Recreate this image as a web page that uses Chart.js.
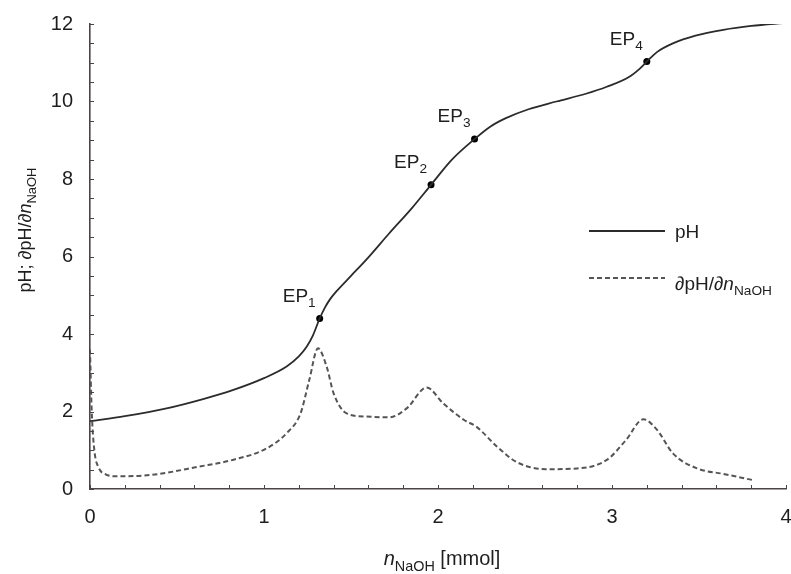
<!DOCTYPE html>
<html>
<head>
<meta charset="utf-8">
<script src="https://cdn.jsdelivr.net/npm/chart.js@4"></script>
<style>
  body { margin: 0; background: #fff; }
</style>
</head>
<body>
<canvas id="titration-chart" width="791" height="574"></canvas>
<script>
// titration curve, values
const phX = [0, 0.2, 0.44, 0.65, 0.82, 1.0, 1.13, 1.2, 1.245, 1.28, 1.32, 1.35, 1.38, 1.42, 1.5, 1.6, 1.72, 1.85, 1.96, 2.08, 2.21, 2.3, 2.39, 2.52, 2.68, 2.85, 2.97, 3.1, 3.16, 3.2, 3.26, 3.35, 3.48, 3.64, 3.8, 4.0];
const phY = [1.75, 1.88, 2.08, 2.32, 2.55, 2.86, 3.16, 3.42, 3.67, 3.95, 4.4, 4.68, 4.9, 5.12, 5.5, 5.98, 6.6, 7.25, 7.85, 8.5, 9.03, 9.35, 9.57, 9.8, 10.0, 10.2, 10.38, 10.64, 10.85, 11.03, 11.28, 11.5, 11.7, 11.85, 11.95, 12.03];

// first derivative dpH/dn
const derivX = [0, 0.01, 0.025, 0.05, 0.09, 0.15, 0.345, 0.63, 0.82, 1.016, 1.13, 1.21, 1.26, 1.31, 1.36, 1.4, 1.475, 1.59, 1.72, 1.82, 1.935, 2.03, 2.15, 2.22, 2.34, 2.45, 2.62, 2.8, 2.97, 3.08, 3.18, 3.26, 3.35, 3.49, 3.64, 3.81];
const derivY = [3.6, 2.0, 1.0, 0.55, 0.38, 0.33, 0.36, 0.58, 0.75, 1.05, 1.44, 1.95, 2.81, 3.63, 3.16, 2.47, 1.95, 1.87, 1.85, 2.08, 2.62, 2.21, 1.78, 1.61, 1.09, 0.7, 0.51, 0.53, 0.75, 1.26, 1.8, 1.52, 0.92, 0.53, 0.39, 0.23];

// equivalence points
const epX = [1.32, 1.96, 2.21, 3.2];
const epY = [4.4, 7.85, 9.03, 11.03];
const epLabels = ['1', '2', '3', '4'];

const xTicks = [0, 1, 2, 3, 4];
const yTicks = [0, 2, 4, 6, 8, 10, 12];

const toXY = (xs, ys) => xs.map((x, i) => ({ x: x, y: ys[i] }));

const FONT = '"Liberation Sans", Arial, sans-serif';
const TEXT = '#1e1e1e';
const AXIS = '#4a4444';

// draws text pieces with italic / subscript parts
function drawRich(ctx, parts, x, y, size, align) {
    const widths = parts.map(p => {
        ctx.font = (p.it ? 'italic ' : '') + (p.sub ? size * 0.72 : size) + 'px ' + FONT;
        return ctx.measureText(p.t).width;
    });
    const total = widths.reduce((a, b) => a + b, 0);
    let cx = align === 'center' ? x - total / 2 : (align === 'right' ? x - total : x);
    ctx.textAlign = 'left';
    ctx.textBaseline = 'alphabetic';
    parts.forEach((p, i) => {
        ctx.font = (p.it ? 'italic ' : '') + (p.sub ? size * 0.72 : size) + 'px ' + FONT;
        ctx.fillText(p.t, cx, p.sub ? y + size * 0.28 : y);
        cx += widths[i];
    });
}

const decor = {
    id: 'decor',
    afterDraw(chart) {
        const ctx = chart.ctx;
        const xs = chart.scales.x, ys = chart.scales.y;
        const area = chart.chartArea;
        ctx.save();

        // inward minor ticks
        ctx.strokeStyle = AXIS;
        ctx.lineWidth = 1;
        ctx.beginPath();
        for (let i = 0; i <= 20; i++) {
            const px = Math.round(xs.getPixelForValue(i * 0.2)) + 0.5;
            ctx.moveTo(px, area.bottom);
            ctx.lineTo(px, area.bottom - 4);
        }
        for (let i = 0; i <= 24; i++) {
            const py = Math.round(ys.getPixelForValue(i * 0.5)) + 0.5;
            ctx.moveTo(area.left, py);
            ctx.lineTo(area.left + 4, py);
        }
        ctx.stroke();

        ctx.fillStyle = TEXT;

        // EP labels
        epX.forEach((v, i) => {
            const px = xs.getPixelForValue(v);
            const py = ys.getPixelForValue(epY[i]);
            drawRich(ctx, [{ t: 'EP' }, { t: epLabels[i], sub: true }], px - 4, py - 17, 19, 'right');
        });

        // legend
        ctx.strokeStyle = '#2b2b2b';
        ctx.lineWidth = 1.8;
        ctx.beginPath();
        ctx.moveTo(589, 231);
        ctx.lineTo(665, 231);
        ctx.stroke();
        ctx.strokeStyle = '#555';
        ctx.setLineDash([5, 3]);
        ctx.beginPath();
        ctx.moveTo(589, 278);
        ctx.lineTo(665, 278);
        ctx.stroke();
        ctx.setLineDash([]);
        drawRich(ctx, [{ t: 'pH' }], 675, 238, 19, 'left');
        drawRich(ctx, [{ t: '\u2202pH/\u2202' }, { t: 'n', it: true }, { t: 'NaOH', sub: true }], 675, 290, 19, 'left');

        // axis titles
        drawRich(ctx, [{ t: 'n', it: true }, { t: 'NaOH', sub: true }, { t: ' [mmol]' }], 442, 565, 20, 'center');
        ctx.translate(31, 230);
        ctx.rotate(-Math.PI / 2);
        drawRich(ctx, [{ t: 'pH; \u2202pH/\u2202' }, { t: 'n', it: true }, { t: 'NaOH', sub: true }], 0, 0, 18, 'center');

        ctx.restore();
    }
};

new Chart(document.getElementById('titration-chart'), {
    type: 'line',
    data: {
        datasets: [{
            label: 'pH',
            data: toXY(phX, phY),
            borderColor: '#2b2b2b',
            borderWidth: 1.8,
            pointRadius: 0,
            cubicInterpolationMode: 'monotone'
        }, {
            label: '\u2202pH/\u2202n',
            data: toXY(derivX, derivY),
            borderColor: '#555',
            borderWidth: 2,
            borderDash: [5, 3],
            pointRadius: 0,
            cubicInterpolationMode: 'monotone'
        }, {
            label: 'EP',
            data: toXY(epX, epY),
            showLine: false,
            pointRadius: 3.5,
            pointBackgroundColor: '#000',
            pointBorderWidth: 0
        }]
    },
    options: {
        responsive: false,
        animation: false,
        layout: { padding: { top: 24, right: 5, left: 0, bottom: 0 } },
        scales: {
            x: {
                type: 'linear',
                min: 0,
                max: 4,
                afterBuildTicks: s => { s.ticks = xTicks.map(v => ({ value: v })); },
                afterFit: s => { s.height = 85; s.paddingLeft = 0; s.paddingRight = 0; },
                ticks: { color: TEXT, font: { family: FONT, size: 20 }, padding: 16, maxRotation: 0 },
                grid: { drawOnChartArea: false, drawTicks: false },
                border: { color: AXIS, width: 1.6 }
            },
            y: {
                min: 0,
                max: 12,
                afterBuildTicks: s => { s.ticks = yTicks.map(v => ({ value: v })); },
                afterFit: s => { s.width = 90; s.paddingTop = 0; s.paddingBottom = 0; },
                ticks: { color: TEXT, font: { family: FONT, size: 20 }, padding: 17 },
                grid: { drawOnChartArea: false, drawTicks: false },
                border: { color: AXIS, width: 1.6 }
            }
        },
        plugins: {
            legend: { display: false },
            tooltip: { enabled: false }
        }
    },
    plugins: [decor]
});
</script>
</body>
</html>
